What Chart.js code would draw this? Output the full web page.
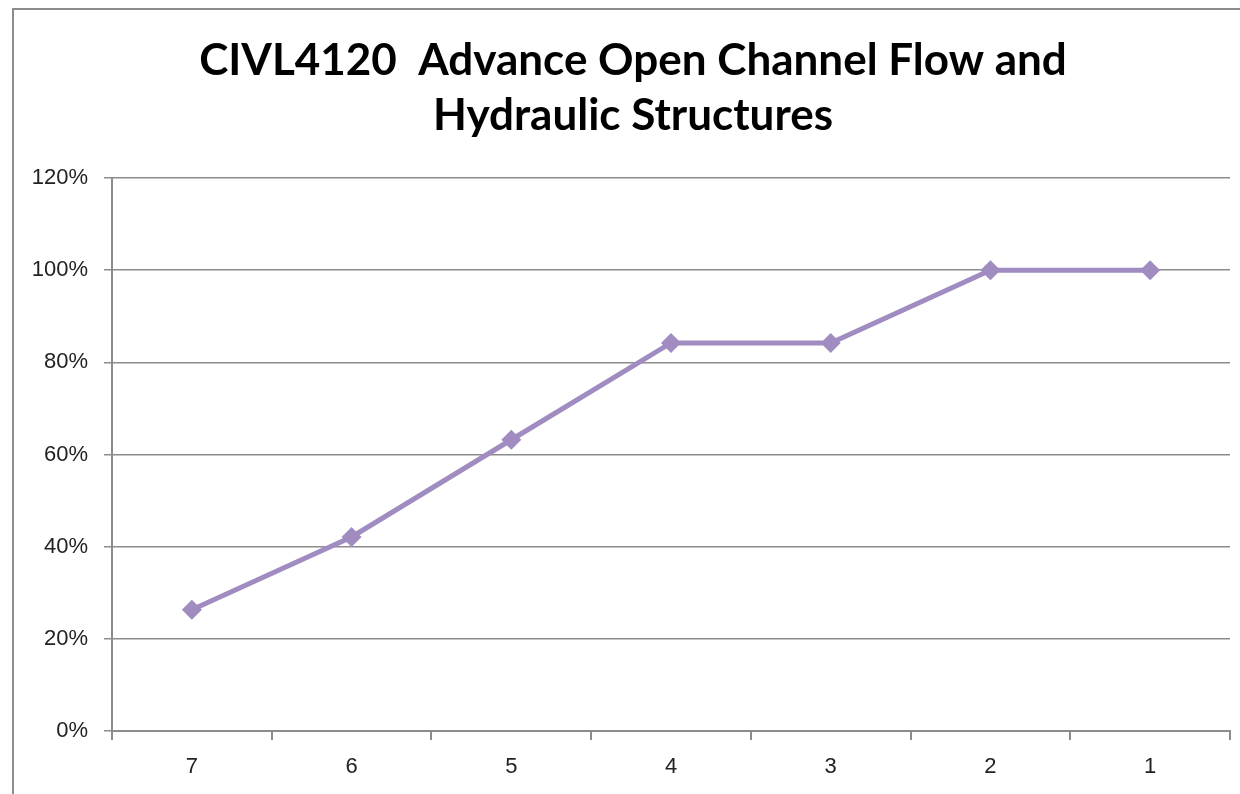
<!DOCTYPE html>
<html>
<head>
<meta charset="utf-8">
<script src="https://cdn.jsdelivr.net/npm/chart.js@4/dist/chart.umd.min.js"></script>
<style>
  html, body { margin: 0; padding: 0; background: #fff; }
  #frame { position: absolute; left: 12px; top: 8px; width: 1240px; height: 800px; border: 2px solid #8c8c8c; box-sizing: border-box; }
  #wrap { position: absolute; left: 0; top: 0; width: 1240px; height: 794px; }
</style>
</head>
<body>
<div id="frame"></div>
<div id="wrap"><canvas id="c" width="1240" height="794"></canvas></div>
<script>
const categories = ["7", "6", "5", "4", "3", "2", "1"];
const values = [0.263, 0.421, 0.632, 0.842, 0.842, 1.0, 1.0];
const titleLines = ["CIVL4120  Advance Open Channel Flow and", "Hydraulic Structures"];
const yTicks = [0, 0.2, 0.4, 0.6, 0.8, 1.0, 1.2];

const gridColor = "#8c8c8c";
const lineColor = "#A08CC1";

new Chart(document.getElementById("c"), {
  type: "line",
  data: {
    labels: categories,
    datasets: [{
      data: values,
      borderColor: lineColor,
      backgroundColor: lineColor,
      borderWidth: 5,
      pointStyle: "rectRot",
      pointRadius: 10,
      pointHoverRadius: 10,
      pointBackgroundColor: lineColor,
      pointBorderColor: lineColor,
      pointBorderWidth: 0,
      tension: 0,
      fill: false
    }]
  },
  options: {
    responsive: false,
    animation: false,
    devicePixelRatio: 1,
    layout: { padding: { left: 26, right: 0, top: 0, bottom: 0 } },
    plugins: {
      legend: { display: false },
      tooltip: { enabled: false },
      title: {
        display: true,
        text: titleLines,
        color: "#000",
        font: { family: "Lato", weight: "bold", size: 44, lineHeight: 1.25 },
        padding: { top: 33, bottom: 35 }
      }
    },
    scales: {
      x: {
        offset: true,
        grid: { offset: true, drawOnChartArea: false, drawTicks: true, tickLength: 9, color: gridColor, lineWidth: 2 },
        border: { display: true, color: gridColor, width: 2 },
        ticks: { color: "#222", font: { family: "Liberation Sans", size: 22 }, padding: 14, maxRotation: 0 },
        afterFit: (s) => { s.height = 63; s.paddingRight = 10; s.paddingLeft = 0; }
      },
      y: {
        min: 0,
        max: 1.2,
        afterBuildTicks: (s) => { s.ticks = yTicks.map(v => ({ value: v })); },
        grid: { drawOnChartArea: true, drawTicks: true, tickLength: 8, color: gridColor, lineWidth: 1.5 },
        border: { display: true, color: gridColor, width: 2 },
        ticks: {
          color: "#222",
          font: { family: "Liberation Sans", size: 22 },
          padding: 16,
          callback: (v) => Math.round(v * 100) + "%"
        },
        afterFit: (s) => { s.width = 86; s.paddingTop = 0; s.paddingBottom = 0; }
      }
    }
  }
});
</script>
</body>
</html>
